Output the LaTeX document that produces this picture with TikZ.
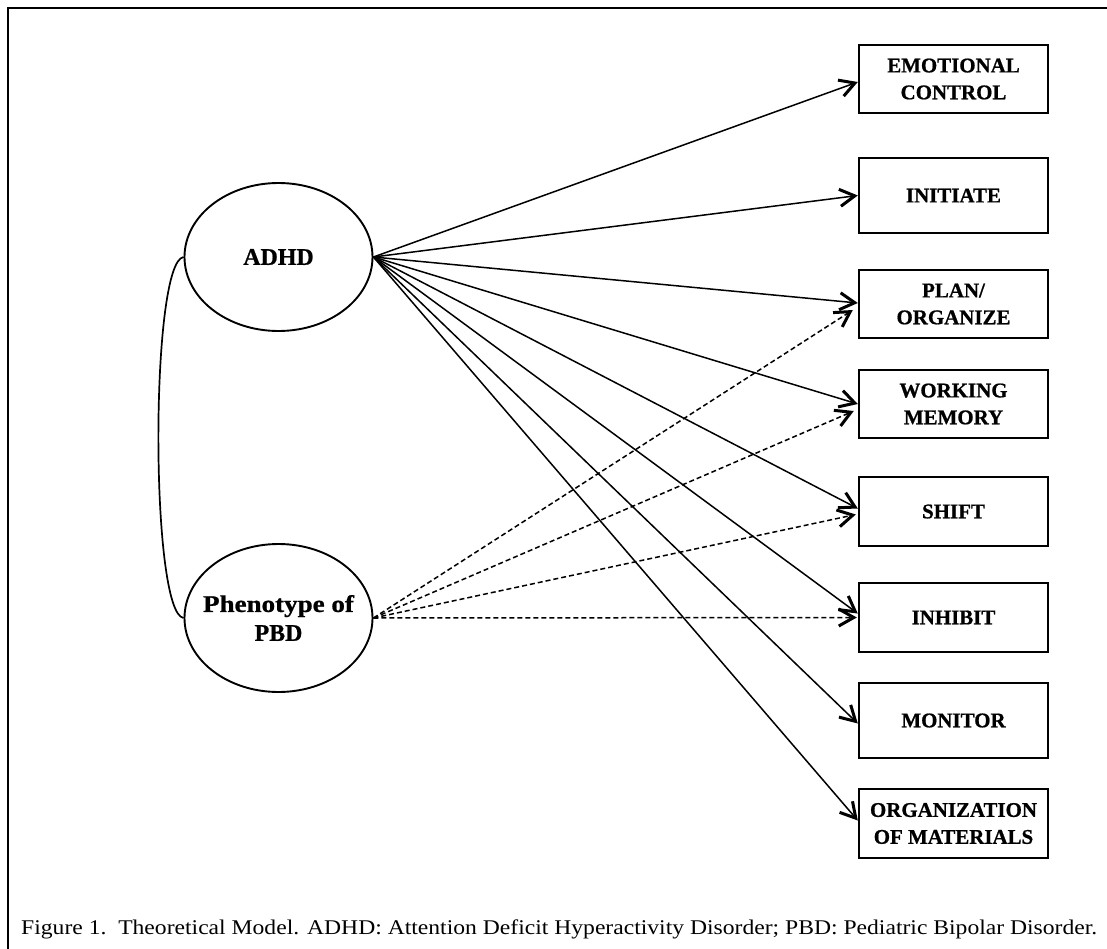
\documentclass[tikz,border=0pt]{standalone}
\usepackage{fontspec}
\setmainfont{Liberation Serif}
\newfontfamily\heavyfont{Liberation Serif Bold}[FakeBold=0.8]
\usetikzlibrary{arrows.meta,shapes.geometric}

\tikzset{
  frameline/.style={line width=2.5bp},
  latent/.style={draw, ellipse, line width=1.9bp, minimum width=188bp, minimum height=148bp,
                 inner sep=0pt, align=center, font=\fontsize{24}{29}\selectfont\heavyfont},
  measure/.style={draw, rectangle, line width=2.4bp, minimum width=189bp, inner sep=0pt,
                  align=center, font=\fontsize{21}{27}\selectfont\heavyfont},
  strongpath/.style={line width=1.5bp, -{Straight Barb[length=15bp,width=17bp,line width=3bp]}},
  weakpath/.style={strongpath, dash pattern=on 5bp off 3bp},
  corr/.style={line width=1.7bp},
  caption/.style={anchor=base west, inner sep=0pt, font=\fontsize{21}{25}\selectfont}
}
% a centred line that does not widen its ellipse
\newcommand\slimline[1]{\makebox[0pt]{#1}}

\begin{document}
\begin{tikzpicture}[x=1bp, y=-1bp]
  \useasboundingbox (0,0) rectangle (1107,949);

  % open frame: top and left rules only
  \coordinate (ftl) at (8,8);
  \coordinate (ftr) at (1110,8);
  \coordinate (fbl) at (8,952);
  \draw[frameline] (ftr) -- (ftl) -- (fbl);

  % latent constructs
  \node[latent] (adhd) at (278.5,257) {\slimline{ADHD}};
  \node[latent] (pbd)  at (278.5,618) {\slimline{\scalebox{1.13}[1]{Phenotype of}}\\\slimline{PBD}};

  % executive function scales
  \node[measure, minimum height=68bp] (emo)  at (953.5,79)    {EMOTIONAL\\CONTROL};
  \node[measure, minimum height=75bp] (init) at (953.5,195.5) {INITIATE};
  \node[measure, minimum height=68bp] (plan) at (953.5,304)   {PLAN/\\ORGANIZE};
  \node[measure, minimum height=68bp] (wm)   at (953.5,404)   {WORKING\\MEMORY};
  \node[measure, minimum height=69bp] (shift)at (953.5,511.5) {SHIFT};
  \node[measure, minimum height=69bp] (inh)  at (953.5,617.5) {INHIBIT};
  \node[measure, minimum height=75bp] (mon)  at (953.5,720.5) {MONITOR};
  \node[measure, minimum height=69bp] (org)  at (953.5,823.5) {ORGANIZATION\\OF MATERIALS};

  % correlation between the two constructs
  \draw[corr] (adhd.west) .. controls (150,262) and (150,613) .. (pbd.west);

  % ADHD paths
  \draw[strongpath] (adhd.east) -- ([yshift=-3bp]emo.west);
  \draw[strongpath] (adhd.east) -- (init.west);
  \draw[strongpath] (adhd.east) -- ([yshift=1bp]plan.west);
  \draw[strongpath] (adhd.east) -- (wm.west);
  \draw[strongpath] (adhd.east) -- ([yshift=3bp]shift.west);
  \draw[strongpath] (adhd.east) -- ([yshift=4bp]inh.west);
  \draw[strongpath] (adhd.east) -- ([yshift=-3bp]mon.west);
  \draw[strongpath] (adhd.east) -- ([yshift=3bp]org.west);

  % PBD paths
  \draw[weakpath] (pbd.east) -- ([shift={(-5,6)}]plan.west);
  \draw[weakpath] (pbd.east) -- ([shift={(-4,7)}]wm.west);
  \draw[weakpath] (pbd.east) -- ([shift={(-2,3)}]shift.west);
  \draw[weakpath] (pbd.east) -- ([shift={(-1,0)}]inh.west);

  % caption
  \node[caption] (cap) at (21,934) {\resizebox{1076bp}{\height}{Figure 1.\ \ Theoretical Model. ADHD: Attention Deficit Hyperactivity Disorder; PBD: Pediatric Bipolar Disorder.}};
\end{tikzpicture}
\end{document}
